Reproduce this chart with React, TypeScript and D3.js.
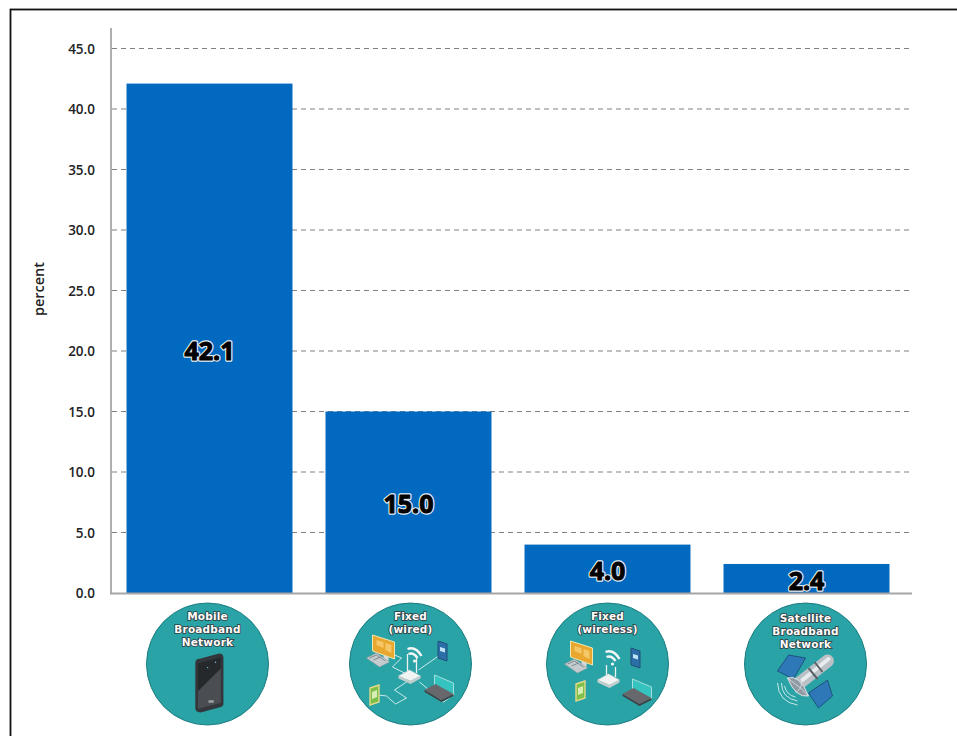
import React from "react";
import * as d3 from "d3";

const categories = ["mobile", "wired", "wireless", "satellite"];
const values = [42.1, 15.0, 4.0, 2.4];
const labelAnchors = [20.1, 7.45, 1.9, 1.05];
const labelTexts = ["42.1", "15.0", "4.0", "2.4"];
const yTicks = [0, 5, 10, 15, 20, 25, 30, 35, 40, 45];
const iconTitles = [
  ["Mobile", "Broadband", "Network"],
  ["Fixed", "(wired)"],
  ["Fixed", "(wireless)"],
  ["Satellite", "Broadband", "Network"],
];
const iconShift = [-2, 2, 0, -1];
const titleTops = [-48, -48, -48, -46];

const W = 957, H = 736;
const y = d3.scaleLinear().domain([0, 45]).range([593, 48.5]);
const x = d3.scaleBand<string>().domain(categories).range([110, 906]).paddingInner(0.166).paddingOuter(0.083);
const FONT = "'Open Sans', 'Noto Sans', sans-serif";

function Monitor({ dx, dy }: { dx: number; dy: number }) {
  return (
    <g transform={`translate(${dx} ${dy})`}>
      <path d="M-21,-14 L1,-7 L1,10 L-21,2 Z" fill="#e8a72e" stroke="#f3e6b0" strokeWidth={1} />
      <path d="M-17,-9 L-10,-7 L-10,-1 L-17,-4 Z M-8,-6 L-2,-4 L-2,4 L-8,1 Z" fill="#f6c766" />
      <path d="M-10,6 L-10,12 L-5,14 L-5,8 Z" fill="#d9d9d9" />
      <path d="M-27,9 L-17,4 L-4,13 L-14,18 Z" fill="#c5ccd0" stroke="#8d9aa0" strokeWidth={0.6} />
      <path d="M-24,9 L-17,6 L-8,12 M-20,11 L-13,8" stroke="#7f8b90" strokeWidth={1} fill="none" />
    </g>
  );
}

function Wifi({ dx, dy }: { dx: number; dy: number }) {
  return (
    <g transform={`translate(${dx} ${dy})`} fill="none" stroke="#f4f6f6" strokeWidth={2.4}>
      <path d="M-7,-6 Q1,-9 7,1" />
      <path d="M-6,-1 Q-1,-3 3,3" />
      <circle cx={0} cy={6} r={1.6} fill="#f4f6f6" stroke="none" />
    </g>
  );
}

function Router({ dx, dy, antenna }: { dx: number; dy: number; antenna: number }) {
  return (
    <g transform={`translate(${dx} ${dy})`}>
      <path d="M-11,0 L0,-6 L11,0 L1,5 Z" fill="#f2f3f3" stroke="#c8d4d4" strokeWidth={0.6} />
      <path d="M-11,0 L1,5 L11,0 L11,2.5 L1,8 L-11,2.5 Z" fill="#c4cdcd" />
      <path d={`M-2,-5 L-2,${-antenna} M7,-3 L7,${-antenna + 2}`} stroke="#eef2f2" strokeWidth={1.3} />
    </g>
  );
}

function Tablet({ dx, dy }: { dx: number; dy: number }) {
  return (
    <g transform={`translate(${dx} ${dy})`}>
      <path d="M-4.5,-10 L4.5,-7 L4.5,10 L-4.5,7 Z" fill="#2c6fa8" stroke="#1f4f78" strokeWidth={1} />
      <path d="M-2.5,-4 L2.5,-2.5 L2.5,1.5 L-2.5,0 Z" fill="#bfe3f5" />
    </g>
  );
}

function GreenPhone({ dx, dy }: { dx: number; dy: number }) {
  return (
    <g transform={`translate(${dx} ${dy})`}>
      <path d="M-4.5,-7 L4.5,-10 L4.5,7 L-4.5,10 Z" fill="#7cc04a" stroke="#e3d98a" strokeWidth={1.4} />
      <path d="M-2.5,-3 L2.5,-5 L2.5,2 L-2.5,4 Z" fill="#d8ecb8" />
    </g>
  );
}

function Laptop({ dx, dy }: { dx: number; dy: number }) {
  return (
    <g transform={`translate(${dx} ${dy})`}>
      <path d="M-5,-12 L14,-4 L14,8 L-5,0 Z" fill="#35c3bf" stroke="#a6dede" strokeWidth={1} />
      <path d="M-15,3 L-4,-3 L14,7 L2,13 Z" fill="#66686b" />
      <path d="M-15,3 L2,13 L14,7 L14,9 L2,15 L-15,5 Z" fill="#3f4144" />
    </g>
  );
}

function Wires() {
  return (
    <path
      d="M-18,-10 L-9,-6 L-18,3 L-6,9 M28,-8 L8,6 M-32,31 L-24,32 L-15,40 L-4,34 L-16,26 L-4,18 M9,18 L33,38 L44,30"
      fill="none"
      stroke="#dff3f2"
      strokeWidth={0.9}
    />
  );
}

function ModemIcon() {
  return (
    <g transform="translate(1 8) scale(0.88)">
      <path d="M-15,-10 Q-15,-15 -10,-15 L12,-21 Q17,-21 17,-16 L17,36 Q17,39 13,40 L-9,46 Q-15,46 -15,41 Z" fill="#33373b" />
      <path d="M-12,-10 L14,-17 L14,35 L-12,42 Z" fill="#4a4e52" />
      <path d="M-12,-10 L14,-17 L14,-4 L-12,22 Z" fill="#26292c" />
      <circle cx={8} cy={-11} r={0.8} fill="#7cc7e8" />
      <circle cx={-1} cy={-5} r={0.8} fill="#7cc7e8" />
      <rect x={0} y={32} width={6} height={3} fill="#9a9d9f" />
    </g>
  );
}

function SatelliteIcon() {
  return (
    <g>
      <path d="M-28,7 L-17,-9 L0,-6 L-12,15 Z" fill="#2f78b8" stroke="#17466e" strokeWidth={0.8} />
      <path d="M3,29 L22,16 L27,32 L13,44 Z" fill="#2f78b8" stroke="#17466e" strokeWidth={0.8} />
      <line x1={-6} y1={19} x2={22} y2={-3} stroke="#b9c1c7" strokeWidth={13} strokeLinecap="round" />
      <line x1={-3} y1={16} x2={23} y2={-5} stroke="#e8ecee" strokeWidth={4} strokeLinecap="round" />
      <path d="M3,4 L12,15 M9,-2 L17,8" stroke="#5a6268" strokeWidth={2} />
      <path d="M-18,14 Q-6,10 3,32 Q-10,34 -18,14 Z" fill="#8f9aa3" stroke="#dfe5e8" strokeWidth={1} />
      <path d="M-18,14 L-5,24 L3,32 M-10,29 L-5,24 L-3,15" stroke="#dfe5e8" strokeWidth={0.8} fill="none" />
      <g fill="none" stroke="#d8eeee" strokeWidth={0.9}>
        <path d="M-24,19 Q-24,34 -8,37" />
        <path d="M-28,19 Q-27,38 -8,41" />
        <path d="M-21,22 Q-19,31 -10,33" />
      </g>
    </g>
  );
}

function Icon({ index }: { index: number }) {
  const cx = (x(categories[index]) as number) + x.bandwidth() / 2 + iconShift[index];
  const cy = 664;
  const lines = iconTitles[index];
  return (
    <g transform={`translate(${cx} ${cy})`}>
      <circle r={61} fill="#2aa3a6" stroke="#1c7d80" strokeWidth={1} />
      {index === 0 ? <ModemIcon /> : null}
      {index === 1 ? (
        <g>
          <Wires />
          <Monitor dx={-17} dy={-15} />
          <Wifi dx={4} dy={-9} />
          <Router dx={-1} dy={12} antenna={22} />
          <Tablet dx={32} dy={-13} />
          <GreenPhone dx={-36} dy={31} />
          <Laptop dx={29} dy={23} />
        </g>
      ) : null}
      {index === 2 ? (
        <g>
          <Monitor dx={-16} dy={-9} />
          <Wifi dx={5} dy={-6} />
          <Router dx={1} dy={16} antenna={15} />
          <Tablet dx={28} dy={-6} />
          <GreenPhone dx={-27} dy={27} />
          <Laptop dx={30} dy={27} />
        </g>
      ) : null}
      {index === 3 ? <SatelliteIcon /> : null}
      {lines.map((t, i) => (
        <text
          key={t + i}
          x={0}
          y={titleTops[index] + i * 12.8}
          textAnchor="middle"
          fontFamily="'DejaVu Sans', sans-serif"
          fontWeight={700}
          fontSize={10.5}
          letterSpacing={0.2}
          fill="#ffffff"
          stroke="#33393c"
          strokeWidth={1.6}
          paintOrder="stroke"
          dominantBaseline="central"
        >
          {t}
        </text>
      ))}
    </g>
  );
}

export default function App() {
  return (
    <svg width={W} height={H} viewBox={`0 0 ${W} ${H}`} style={{ position: "absolute", left: 0, top: 0, background: "#fff" }}>
      <rect x={10.5} y={9.5} width={960} height={740} fill="#fff" stroke="#111" strokeWidth={1.8} />
      {yTicks.filter((t) => t > 0).map((t) => (
        <line key={t} x1={112} x2={912} y1={y(t)} y2={y(t)} stroke="#808080" strokeWidth={1.2} strokeDasharray="5 4" />
      ))}
      {categories.map((c, i) => (
        <rect key={c} x={x(c)} y={y(values[i])} width={x.bandwidth()} height={y(0) - y(values[i])} fill="#0169bf" />
      ))}
      <line x1={111} x2={111} y1={28} y2={594} stroke="#a6a6a6" strokeWidth={1.8} />
      <line x1={110} x2={912} y1={593.5} y2={593.5} stroke="#a6a6a6" strokeWidth={1.8} />
      {yTicks.map((t) => (
        <text key={t} x={95} y={y(t)} textAnchor="end" dominantBaseline="central" fontFamily={FONT} fontWeight={600} fontSize={13.5} fill="#222">
          {d3.format(".1f")(t)}
        </text>
      ))}
      <text transform="translate(38 289) rotate(-90)" textAnchor="middle" dominantBaseline="central" fontFamily={FONT} fontWeight={600} fontSize={14.5} fill="#222">
        percent
      </text>
      {categories.map((c, i) => (
        <g key={c} textAnchor="middle" fontFamily={FONT} fontWeight={700} fontSize={25}>
          <text
            x={(x(c) as number) + x.bandwidth() / 2}
            y={y(labelAnchors[i])}
            dominantBaseline="central"
            fill="#e8edf2"
            stroke="#e8edf2"
            strokeWidth={3.4}
            strokeLinejoin="round"
          >
            {labelTexts[i]}
          </text>
          <text
            x={(x(c) as number) + x.bandwidth() / 2}
            y={y(labelAnchors[i])}
            dominantBaseline="central"
            fill="#000"
            stroke="#000"
            strokeWidth={1}
            strokeLinejoin="round"
          >
            {labelTexts[i]}
          </text>
        </g>
      ))}
      {categories.map((c, i) => <Icon key={c} index={i} />)}
    </svg>
  );
}
